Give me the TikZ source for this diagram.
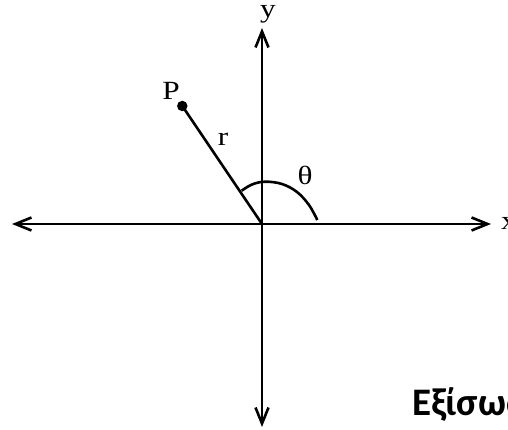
\documentclass[tikz,border=0pt]{standalone}
\usepackage{fontspec}
\setmainfont{Liberation Serif}
\newfontfamily\carlito{Carlito}
\usetikzlibrary{arrows.meta}
\newcommand{\wide}[1]{\scalebox{1.25}[1.05]{#1}}
\begin{document}
\begin{tikzpicture}[x=1pt,y=1pt,
  axis/.style={line width=2.6pt,{Straight Barb[length=16pt,width=13pt]}-{Straight Barb[length=16pt,width=13pt]}},
  lbl/.style={inner sep=0pt,anchor=base,font=\fontsize{25}{25}\selectfont},
  curve/.style={line width=2.6pt},
  dot/.style={circle,fill=black,inner sep=0pt,minimum size=10.5pt}]
\useasboundingbox (0,0) rectangle (508,430);
\fill[white] (0,0) rectangle (508,430);
\clip (0,0) rectangle (508,430);
% axes
\coordinate (O) at (262,206);
\coordinate (xl) at (12,206);
\coordinate (xr) at (491,206);
\coordinate (yt) at (262,402);
\coordinate (yb) at (262,3);
\draw[axis] (xl) -- (xr);
\draw[axis] (yb) -- (yt);
% point and radius
\node[dot] (P) at (182.3,324) {};
\draw[curve] (P.center) -- (O);
% angle arc
\draw[curve] plot[smooth,tension=0.6] coordinates {(241.7,239.3) (252,245.5) (265,248.3) (282,246) (297,238) (309,225) (317.3,210)};
% labels
\node[lbl] (ylab) at (268,412) {\wide{y}};
\node[lbl,anchor=base west] (xlab) at (501,200) {\wide{x}};
\node[lbl] (Plab) at (171,330) {\wide{P}};
\node[lbl] (rlab) at (223,284) {\wide{r}};
\node[lbl] (tlab) at (305,245) {\wide{θ}};
\node[inner sep=0pt,anchor=base west,font=\carlito\bfseries\fontsize{39}{39}\selectfont] (eq) at (412,14) {Εξίσωση};
\end{tikzpicture}
\end{document}
